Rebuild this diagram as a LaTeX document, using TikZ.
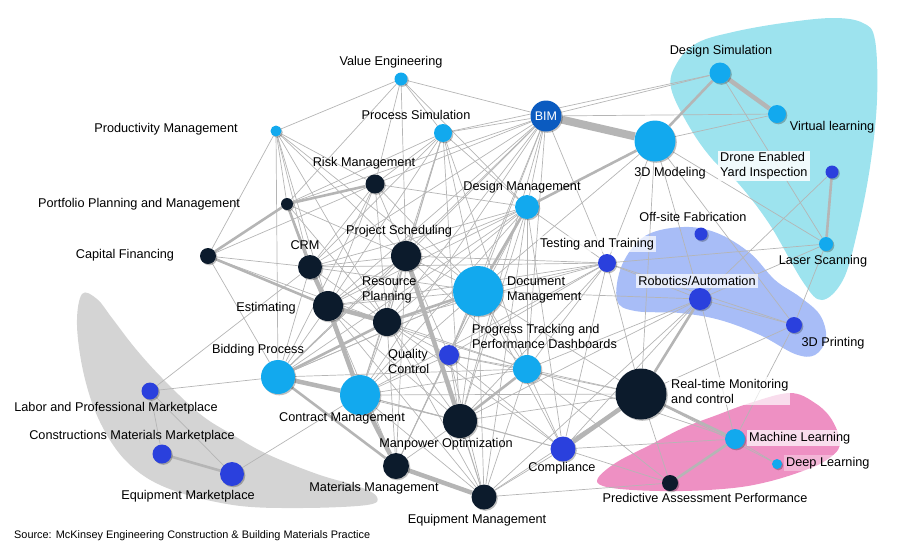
\documentclass[tikz,border=0pt]{standalone}
\usepackage{fontspec}
\setmainfont{Liberation Sans}
\usetikzlibrary{shadows}
\definecolor{lblue}{HTML}{12A9EE}
\definecolor{navy}{HTML}{0C1B2C}
\definecolor{mblue}{HTML}{2A40DD}
\definecolor{bimblue}{HTML}{0B5BC0}
\definecolor{cyanblob}{HTML}{9DE3EE}
\definecolor{lavblob}{HTML}{A8BDF7}
\definecolor{pinkblob}{HTML}{EE90C3}
\definecolor{greyblob}{HTML}{D4D4D4}
\definecolor{edgec}{HTML}{B5B5B5}
\pgfdeclarelayer{blobs}
\pgfdeclarelayer{edges}
\pgfsetlayers{blobs,edges,main}
\begin{document}
\begin{tikzpicture}[x=1pt,y=-1pt,
 dot/.style={circle,inner sep=0pt,drop shadow={shadow xshift=1.3pt,shadow yshift=-1.3pt,opacity=0.25,fill=black}},
 lbn/.style={dot,fill=lblue,minimum size=#1},
 nvn/.style={dot,fill=navy,minimum size=#1},
 mbn/.style={dot,fill=mblue,minimum size=#1},
 lab/.style={font=\fontsize{12.7}{15}\selectfont,inner sep=1pt,align=center},
 labl/.style={lab,align=left,anchor=west},
 bg/.style={fill=white,fill opacity=0.7,text opacity=1},
 ln/.style={draw=edgec,line width=0.7pt},
 lnm/.style={draw=edgec,line width=2.6pt},
 lnt/.style={draw=edgec,line width=4.5pt},
 lnx/.style={draw=edgec,line width=8pt}]
\useasboundingbox (0,0) rectangle (900,550);

% ---- nodes ----
\node[lbn=13pt] (ve) at (401,79) {};
\node[lbn=11pt] (pm) at (276,131) {};
\node[lbn=18pt] (ps) at (443,133) {};
\node[dot,fill=bimblue,minimum size=31pt,text=white,font=\fontsize{12.5}{14}\selectfont] (bim) at (546,116) {BIM};
\node[lbn=41pt] (m3d) at (655,141) {};
\node[lbn=21pt] (dsim) at (720,73) {};
\node[lbn=18pt] (vl) at (777,114) {};
\node[mbn=13pt] (drone) at (832,172) {};
\node[lbn=14pt] (laser) at (826,244) {};
\node[mbn=13pt] (offsite) at (701,234) {};
\node[mbn=18pt] (tt) at (607,263) {};
\node[lbn=24pt] (dm) at (527,207) {};
\node[nvn=19pt] (rm) at (375,184) {};
\node[nvn=12pt] (pf) at (287,204) {};
\node[nvn=16pt] (cf) at (208,256) {};
\node[nvn=24pt] (crm) at (310,267) {};
\node[nvn=30pt] (sched) at (406,256) {};
\node[nvn=30pt] (est) at (328,306) {};
\node[nvn=28pt] (rp) at (387,322) {};
\node[lbn=50pt] (doc) at (478,291) {};
\node[lbn=34pt] (bid) at (278,377) {};
\node[mbn=20pt] (qc) at (449,355) {};
\node[lbn=28pt] (prog) at (527,369) {};
\node[lbn=40pt] (cm) at (360,395) {};
\node[nvn=34pt] (mp) at (460,421) {};
\node[nvn=26pt] (mat) at (396,466) {};
\node[nvn=25pt] (eqm) at (484,497) {};
\node[mbn=25pt] (comp) at (563,449) {};
\node[nvn=51pt] (rt) at (641,394) {};
\node[mbn=22pt] (rob) at (700,299) {};
\node[mbn=16pt] (p3d) at (794,325) {};
\node[lbn=20pt] (ml) at (735,439) {};
\node[lbn=10pt] (dl) at (777,464) {};
\node[nvn=16pt] (pred) at (670,483) {};
\node[mbn=17pt] (labor) at (150,391) {};
\node[mbn=19pt] (cmm) at (162,454) {};
\node[mbn=24pt] (eqmk) at (232,474) {};

% ---- labels ----
\node[lab] (l-ve) at (391,62) {Value Engineering};
\node[lab] (l-pm) at (166,129) {Productivity Management};
\node[lab] (l-ps) at (416,115) {Process Simulation};
\node[lab] (l-rm) at (364,163) {Risk Management};
\node[lab] (l-pf) at (139,204) {Portfolio Planning and Management};
\node[lab] (l-cf) at (125,255) {Capital Financing};
\node[lab] (l-crm) at (305,245) {CRM};
\node[lab] (l-sched) at (399,231) {Project Scheduling};
\node[labl] (l-rp) at (361,290) {Resource\\Planning};
\node[lab] (l-est) at (266,308) {Estimating};
\node[lab] (l-dm) at (522,187) {Design Management};
\node[lab] (l-m3d) at (670,173) {3D Modeling};
\node[lab] (l-dsim) at (721,51) {Design Simulation};
\node[lab] (l-vl) at (832,127) {Virtual learning};
\node[labl,fill=white,fill opacity=0.85,text opacity=1,inner sep=2pt] (l-drone) at (718,166) {Drone Enabled\\Yard Inspection};
\node[lab] (l-offsite) at (693,217) {Off-site Fabrication};
\node[lab,bg,inner sep=2pt] (l-tt) at (597,244) {Testing and Training};
\node[lab] (l-laser) at (823,261) {Laser Scanning};
\node[labl] (l-doc) at (506,290) {Document\\Management};
\node[lab,bg,inner sep=2pt] (l-rob) at (697,281) {Robotics/Automation};
\node[lab] (l-p3d) at (833,343) {3D Printing};
\node[labl] (l-prog) at (471,336) {Progress Tracking and\\Performance Dashboards};
\node[labl,bg,inner sep=2pt] (l-rt) at (669,391) {Real-time Monitoring\\and control};
\node[labl,bg,inner sep=2pt] (l-ml) at (747,438) {Machine Learning};
\node[labl,fill=white,fill opacity=0.35,text opacity=1,inner sep=2pt] (l-dl) at (784,463) {Deep Learning};
\node[lab] (l-pred) at (705,498) {Predictive Assessment Performance};
\node[lab] (l-comp) at (562,468) {Compliance};
\node[lab] (l-eqm) at (477,520) {Equipment Management};
\node[lab] (l-mp) at (446,444) {Manpower Optimization};
\node[lab] (l-mat) at (374,488) {Materials Management};
\node[lab] (l-cm) at (342,418) {Contract Management};
\node[labl] (l-qc) at (387,361) {Quality\\Control};
\node[lab] (l-bid) at (258,350) {Bidding Process};
\node[lab] (l-labor) at (116,408) {Labor and Professional Marketplace};
\node[lab] (l-cmm) at (132,436) {Constructions Materials Marketplace};
\node[lab] (l-eqmk) at (188,496) {Equipment Marketplace};
\node[anchor=west,font=\fontsize{10.9}{13}\selectfont,inner sep=0pt] (src) at (14,536) {Source: McKinsey Engineering Construction \& Building Materials Practice};

% ---- edges ----
\begin{pgfonlayer}{edges}
\foreach \a/\b in {ve/pm,ve/ps,ve/bim,ve/sched,ve/pf,ve/dm,ve/rm,
 pm/cf,pm/rm,pm/est,pm/crm,pm/sched,pm/rp,pm/doc,pm/bid,
 ps/bim,ps/rm,ps/pf,ps/crm,ps/sched,ps/doc,ps/est,ps/dm,ps/prog,ps/mp,ps/dsim,ps/rp,ps/cm,
 bim/dsim,bim/dm,bim/doc,bim/sched,bim/rm,bim/est,bim/crm,bim/tt,bim/prog,bim/rp,bim/pf,bim/cm,bim/mp,bim/vl,bim/qc,bim/bid,
 m3d/vl,m3d/laser,m3d/tt,m3d/rt,m3d/doc,m3d/rob,m3d/p3d,
 dsim/laser,drone/rob,laser/rob,laser/tt,
 p3d/laser,p3d/ml,p3d/rob,p3d/rt,p3d/tt,
 tt/dm,tt/doc,tt/sched,tt/rp,tt/prog,tt/rt,tt/rob,tt/comp,tt/cm,tt/est,tt/crm,tt/qc,tt/mp,
 rob/ml,rob/doc,rob/comp,rob/prog,rob/mp,rob/eqm,
 rt/pred,rt/prog,rt/mp,rt/doc,rt/eqm,rt/dl,rt/qc,rt/cm,
 ml/dl,ml/comp,ml/prog,
 pred/eqm,pred/comp,pred/prog,
 comp/eqm,comp/mp,comp/prog,comp/doc,comp/dm,comp/cm,comp/rp,comp/qc,
 prog/eqm,prog/doc,prog/rp,prog/sched,prog/dm,prog/cm,prog/bid,prog/est,prog/qc,
 mp/doc,mp/eqm,mp/mat,mp/rp,mp/cm,mp/est,mp/bid,mp/dm,
 mat/rp,mat/doc,mat/sched,mat/est,mat/qc,
 eqm/rp,eqm/sched,eqm/doc,eqm/dm,eqm/cm,eqm/est,eqm/qc,
 cm/doc,cm/sched,cm/dm,cm/eqmk,cm/qc,cm/crm,
 bid/labor,bid/est,bid/crm,bid/sched,bid/doc,bid/dm,bid/rm,
 labor/crm,labor/eqmk,labor/cmm,
 doc/sched,doc/est,doc/crm,doc/rm,doc/qc,doc/bid,doc/mat,
 sched/rm,sched/crm,sched/est,sched/rp,sched/dm,sched/qc,sched/bid,
 rm/crm,rm/est,rm/rp,rm/dm,rm/cf,
 dm/est,dm/crm,dm/rp,dm/qc,
 pf/est,pf/sched,pf/rp,pf/pm,
 cf/crm,cf/bid,cf/rp,
 crm/rp,est/sched,rp/qc,qc/mp,cm/rp}
 \draw[ln] (\a) -- (\b);
\foreach \a/\b in {m3d/dsim,m3d/dm,drone/laser,rm/pf,pf/cf,pf/crm,cf/est,rob/rt,rt/ml,ml/pred,prog/mp,doc/dm,bid/rp,rp/doc,cmm/eqmk,bid/mat}
 \draw[lnm] (\a) -- (\b);
\foreach \a/\b in {dsim/vl,crm/est,est/cm,est/rp,bid/cm,cm/mat,mat/eqm,sched/mp,rt/comp}
 \draw[lnt] (\a) -- (\b);
\draw[lnx] (bim) -- (m3d);
\end{pgfonlayer}

% ---- blobs ----
\begin{pgfonlayer}{blobs}
\fill[cyanblob] plot[smooth cycle,tension=0.6] coordinates {(671,88) (677,63) (697,43) (733,32) (783,23) (833,18) (863,23) (875,40) (877,100) (870,167) (857,233) (843,280) (822,300) (803,282) (770,225) (738,183) (713,160) (690,128)};
\fill[lavblob] plot[smooth cycle,tension=0.6] coordinates {(683,227) (717,233) (750,253) (775,280) (800,297) (820,315) (826,338) (815,355) (795,354) (760,335) (720,320) (680,313) (635,311) (617,300) (622,265) (645,236)};
\fill[pinkblob] plot[smooth cycle,tension=0.6] coordinates {(598,478) (617,462) (650,445) (683,428) (717,415) (750,403) (790,393) (815,403) (832,420) (840,445) (825,461) (800,472) (767,482) (733,488) (683,491) (633,490) (603,486)};
\fill[greyblob] plot[smooth cycle,tension=0.6] coordinates {(82,294) (97,299) (112,318) (135,348) (162,378) (200,414) (233,435) (267,454) (317,474) (360,487) (377,497) (367,505) (300,508) (233,505) (167,488) (127,462) (100,422) (84,375) (77,325)};
\end{pgfonlayer}
\end{tikzpicture}
\end{document}
